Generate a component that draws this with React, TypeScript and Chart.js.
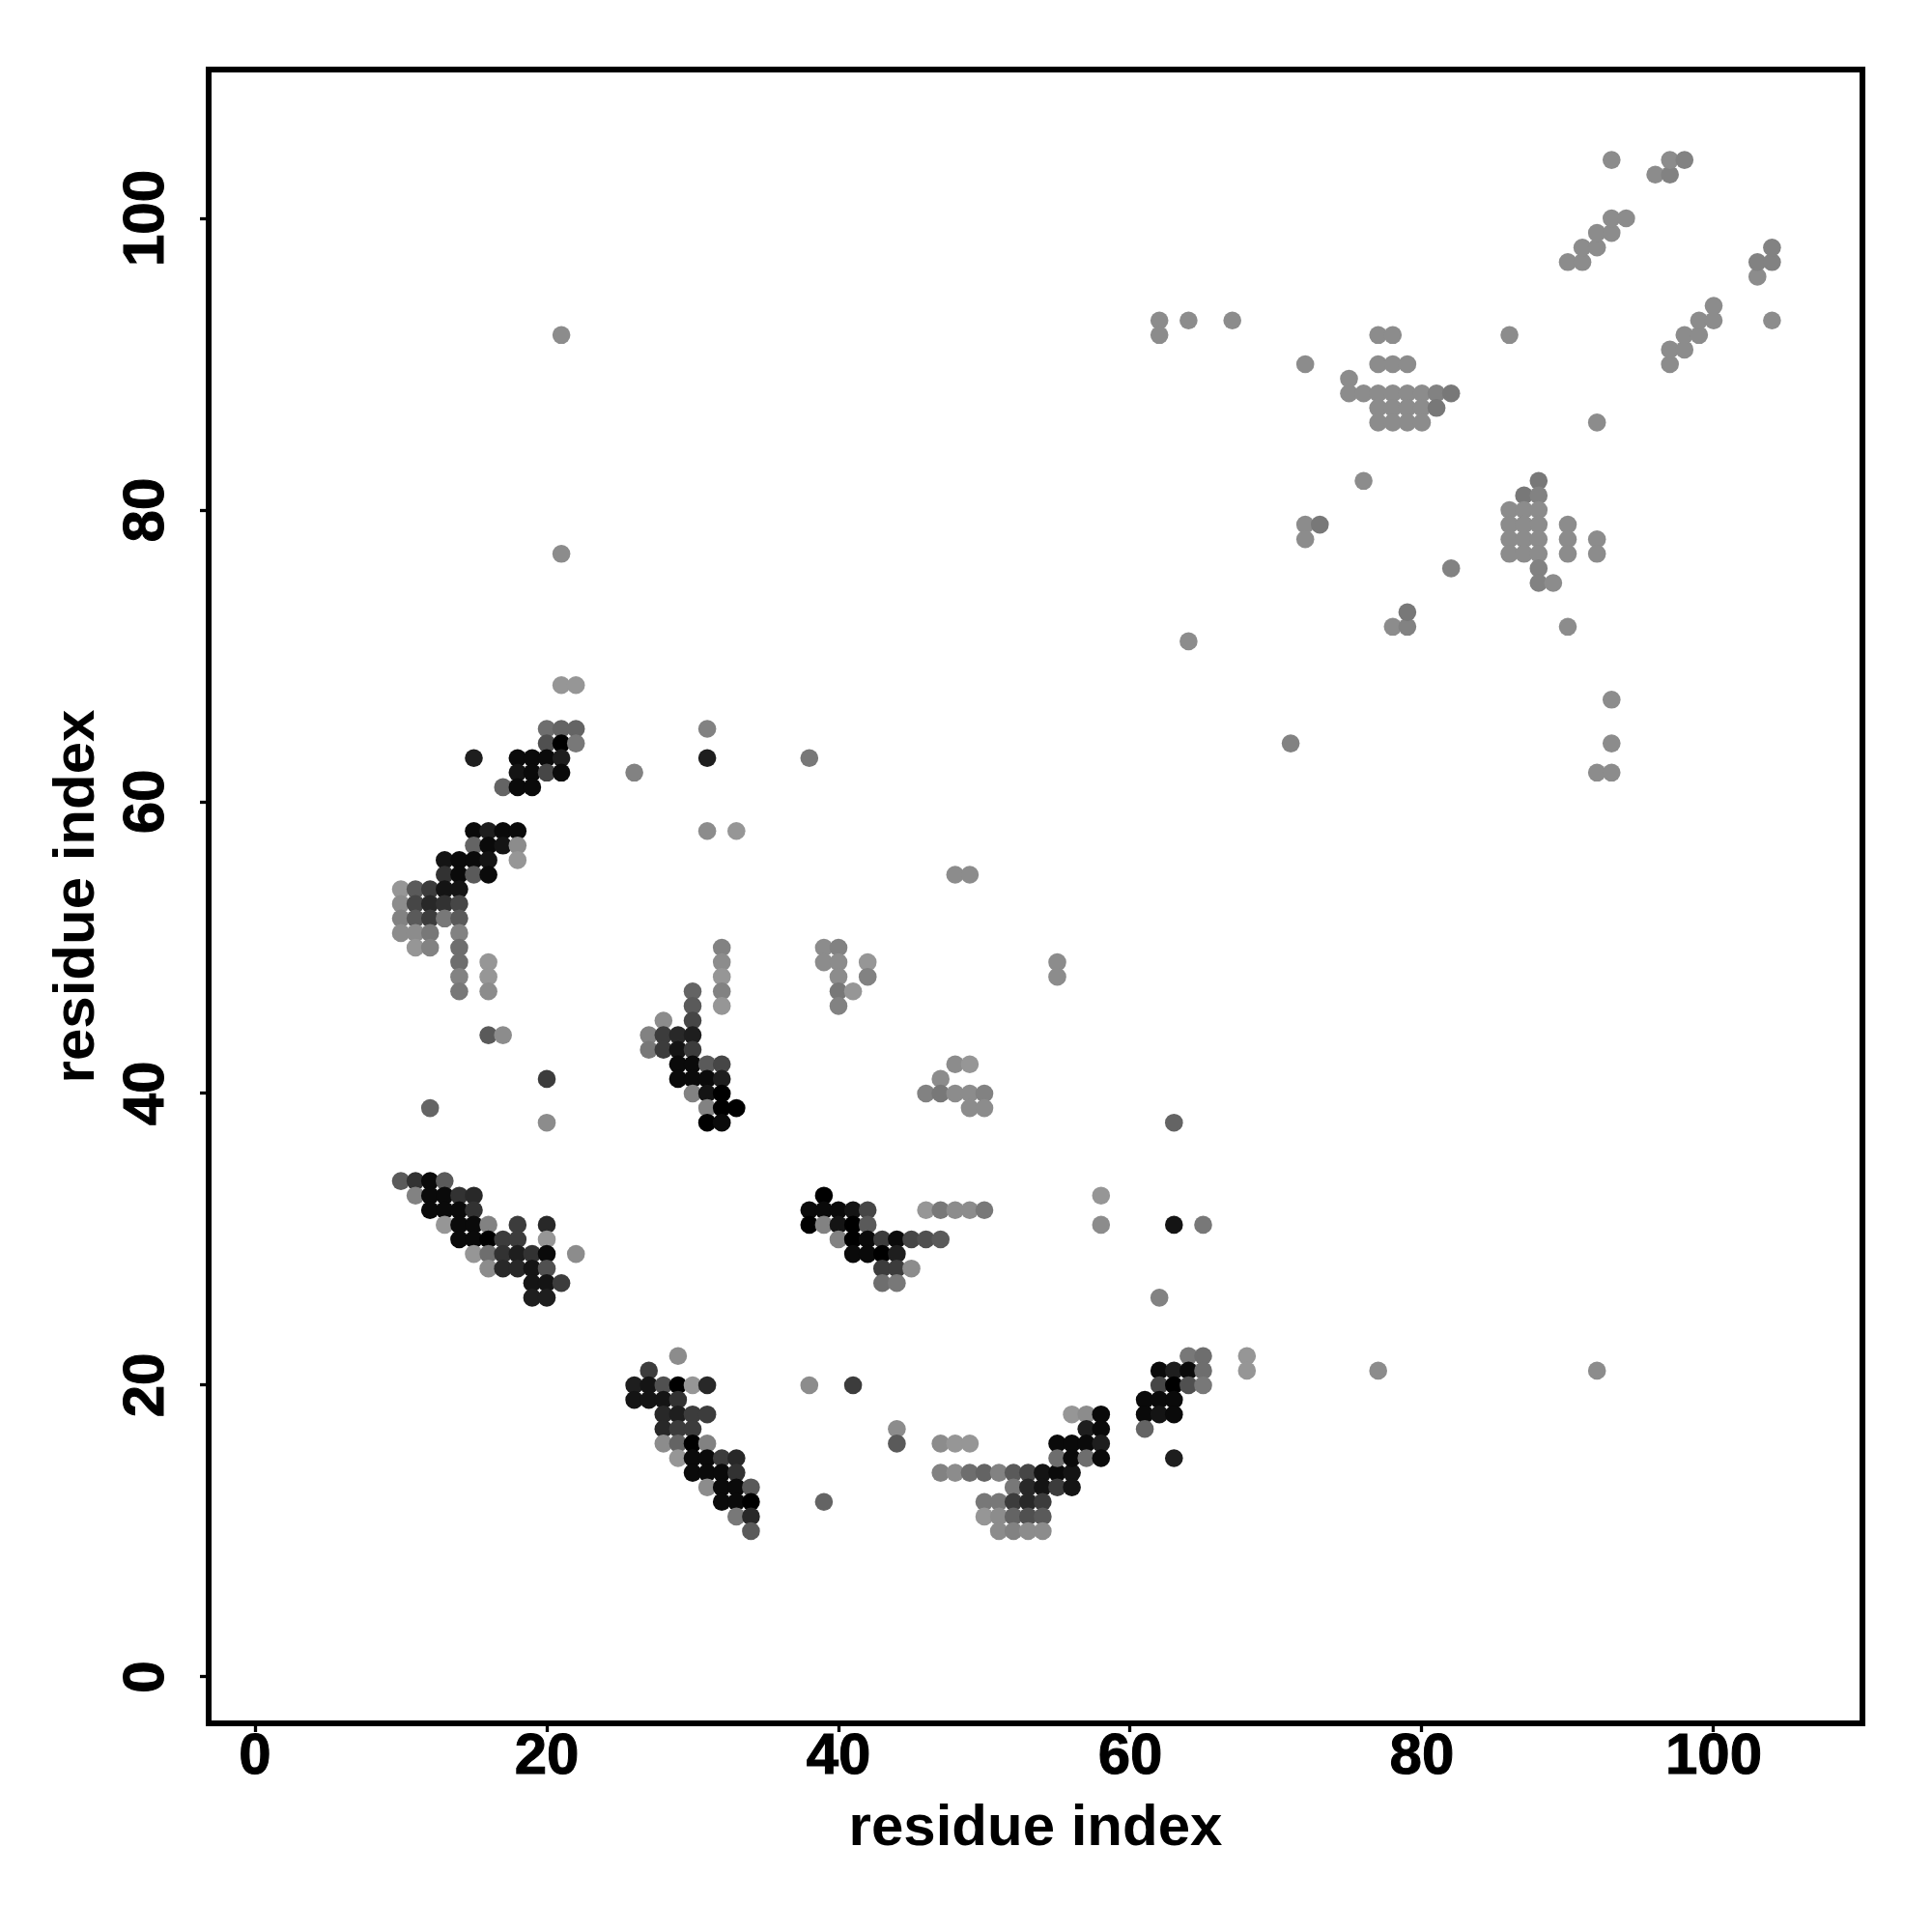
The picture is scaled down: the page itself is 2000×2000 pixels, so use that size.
import React, { useEffect, useRef } from "react";
import { Chart, registerables } from "chart.js";

Chart.register(...registerables);

// Each contact: [residue i, residue j, strength 0 (weak) .. 15 (strong)]
type Contact = [number, number, number];

const xTickValues = [0, 20, 40, 60, 80, 100];
const yTickValues = [0, 20, 40, 60, 80, 100];
const xAxisTitle = "residue index";
const yAxisTitle = "residue index";

const hairpinUpperLeft: Contact[] = [
  [21, 68, 0], [22, 68, 0],
  [20, 65, 4], [21, 65, 5], [22, 65, 5], [31, 65, 2],
  [20, 64, 7], [21, 64, 15], [22, 64, 3],
  [15, 63, 12], [18, 63, 14], [19, 63, 14], [20, 63, 14], [21, 63, 12], [31, 63, 12], [38, 63, 3],
  [18, 62, 13], [19, 62, 14], [20, 62, 8], [21, 62, 14], [26, 62, 2],
  [17, 61, 5], [18, 61, 14], [19, 61, 14],
  [15, 58, 14], [16, 58, 12], [17, 58, 14], [18, 58, 14], [31, 58, 1], [33, 58, 0],
  [15, 57, 5], [16, 57, 14], [17, 57, 13], [18, 57, 1],
  [13, 56, 13], [14, 56, 14], [15, 56, 14], [16, 56, 13], [18, 56, 0],
  [13, 55, 10], [14, 55, 14], [15, 55, 6], [16, 55, 14],
  [10, 54, 0], [11, 54, 6], [12, 54, 9], [13, 54, 13], [14, 54, 13],
  [10, 53, 1], [11, 53, 8], [12, 53, 11], [13, 53, 10], [14, 53, 8],
  [10, 52, 2], [11, 52, 6], [12, 52, 9], [13, 52, 3], [14, 52, 6],
  [10, 51, 1], [11, 51, 1], [12, 51, 3], [14, 51, 2],
  [11, 50, 0], [12, 50, 2], [14, 50, 4],
  [14, 49, 4], [16, 49, 0],
  [14, 48, 2], [16, 48, 0],
  [14, 47, 3], [16, 47, 1],
  [16, 44, 6], [17, 44, 1],
  [12, 39, 5], [20, 41, 9], [20, 38, 1],
];

const hairpinMiddle: Contact[] = [
  [32, 50, 2], [32, 49, 1], [32, 48, 0], [32, 47, 2], [32, 46, 0],
  [30, 47, 5], [30, 46, 6], [30, 45, 8], [28, 45, 1],
  [27, 44, 2], [28, 44, 9], [29, 44, 11], [30, 44, 12],
  [27, 43, 3], [28, 43, 9], [29, 43, 13], [30, 43, 9],
  [29, 42, 14], [30, 42, 14], [31, 42, 6], [32, 42, 8],
  [29, 41, 14], [30, 41, 14], [31, 41, 14], [32, 41, 12],
  [30, 40, 2], [31, 40, 13], [32, 40, 15],
  [31, 39, 2], [32, 39, 15], [33, 39, 15],
  [31, 38, 15], [32, 38, 14],
  [39, 50, 1], [40, 50, 2], [39, 49, 1], [40, 49, 1], [42, 49, 0],
  [40, 48, 1], [42, 48, 2], [40, 47, 3], [41, 47, 0], [40, 46, 2],
  [48, 42, 1], [49, 42, 0], [47, 41, 1],
  [46, 40, 2], [47, 40, 3], [48, 40, 1], [49, 40, 1], [50, 40, 2],
  [49, 39, 1], [50, 39, 1],
  [48, 55, 1], [49, 55, 1], [55, 49, 1], [55, 48, 1], [63, 38, 5],
];

const sheetLowerLeft: Contact[] = [
  [10, 34, 6], [11, 34, 10], [12, 34, 14], [13, 34, 6],
  [11, 33, 2], [12, 33, 14], [13, 33, 14], [14, 33, 10], [15, 33, 11],
  [12, 32, 14], [13, 32, 14], [14, 32, 14], [15, 32, 10],
  [13, 31, 0], [14, 31, 14], [15, 31, 14], [16, 31, 2], [18, 31, 9], [20, 31, 11],
  [14, 30, 14], [15, 30, 14], [16, 30, 15], [17, 30, 9], [18, 30, 9], [20, 30, 0],
  [15, 29, 0], [16, 29, 4], [17, 29, 10], [18, 29, 12], [19, 29, 10], [20, 29, 14], [22, 29, 1],
  [16, 28, 1], [17, 28, 11], [18, 28, 11], [19, 28, 13], [20, 28, 7],
  [19, 27, 13], [20, 27, 13], [21, 27, 9],
  [19, 26, 12], [20, 26, 12],
];

const sheetCentre: Contact[] = [
  [39, 33, 15], [58, 33, 0],
  [38, 32, 14], [39, 32, 14], [40, 32, 14], [41, 32, 13], [42, 32, 8],
  [46, 32, 0], [47, 32, 3], [48, 32, 1], [49, 32, 1], [50, 32, 3],
  [38, 31, 15], [39, 31, 2], [40, 31, 13], [41, 31, 15], [42, 31, 6],
  [58, 31, 1], [63, 31, 13], [65, 31, 3],
  [40, 30, 2], [41, 30, 15], [42, 30, 14], [43, 30, 9], [44, 30, 14], [45, 30, 8], [46, 30, 7], [47, 30, 6],
  [41, 29, 14], [42, 29, 14], [43, 29, 15], [44, 29, 12],
  [43, 28, 9], [44, 28, 9], [45, 28, 1],
  [43, 27, 4], [44, 27, 3],
  [62, 26, 2],
];

const sheetBottom: Contact[] = [
  [29, 22, 1], [27, 21, 9],
  [26, 20, 12], [27, 20, 13], [28, 20, 7], [29, 20, 15], [30, 20, 0], [31, 20, 11],
  [26, 19, 13], [27, 19, 13], [28, 19, 13], [29, 19, 10],
  [28, 18, 11], [29, 18, 12], [30, 18, 9], [31, 18, 9],
  [28, 17, 11], [29, 17, 9], [30, 17, 9],
  [28, 16, 1], [29, 16, 5], [30, 16, 15], [31, 16, 2],
  [29, 15, 0], [30, 15, 14], [31, 15, 14], [32, 15, 9], [33, 15, 11],
  [30, 14, 14], [31, 14, 14], [32, 14, 14], [33, 14, 10],
  [31, 13, 1], [32, 13, 14], [33, 13, 14], [34, 13, 6],
  [32, 12, 14], [33, 12, 14], [34, 12, 15],
  [33, 11, 3], [34, 11, 11], [34, 10, 6],
  [38, 20, 1], [41, 20, 9], [44, 17, 1], [44, 16, 6], [39, 12, 5],
  [47, 16, 1], [48, 16, 0], [49, 16, 0],
  [47, 14, 2], [48, 14, 1], [49, 14, 4], [50, 14, 5], [51, 14, 2], [52, 14, 6], [53, 14, 8],
  [54, 14, 13], [55, 14, 14], [56, 14, 13],
  [52, 13, 3], [53, 13, 11], [54, 13, 13], [55, 13, 9], [56, 13, 13],
  [50, 12, 3], [51, 12, 3], [52, 12, 9], [53, 12, 11], [54, 12, 9],
  [50, 11, 0], [51, 11, 1], [52, 11, 5], [53, 11, 7], [54, 11, 6],
  [51, 10, 1], [52, 10, 2], [53, 10, 1], [54, 10, 1],
  [64, 22, 3], [65, 22, 4], [68, 22, 0],
  [62, 21, 14], [63, 21, 12], [64, 21, 14], [65, 21, 4], [68, 21, 0], [77, 21, 1], [92, 21, 1],
  [62, 20, 8], [63, 20, 15], [64, 20, 7], [65, 20, 3],
  [61, 19, 14], [62, 19, 14], [63, 19, 14],
  [56, 18, 0], [57, 18, 1], [58, 18, 14], [61, 18, 14], [62, 18, 13], [63, 18, 14],
  [57, 17, 12], [58, 17, 14], [61, 17, 5],
  [55, 16, 14], [56, 16, 14], [57, 16, 14], [58, 16, 12],
  [55, 15, 4], [56, 15, 14], [57, 15, 4], [58, 15, 14], [63, 15, 12],
];

const domainUpperRight: Contact[] = [
  [21, 92, 1], [21, 77, 1], [71, 64, 2], [64, 71, 1],
  [62, 93, 1], [64, 93, 1], [67, 93, 1], [62, 92, 1], [104, 93, 1],
  [72, 90, 1], [75, 89, 1], [76, 82, 1],
  [72, 79, 1], [73, 79, 3], [72, 78, 1],
  [78, 72, 1], [79, 72, 2], [79, 73, 3], [82, 76, 2],
  [77, 92, 1], [78, 92, 1], [86, 92, 1],
  [77, 90, 1], [78, 90, 1], [79, 90, 1],
  [75, 88, 1], [76, 88, 1], [77, 88, 1], [78, 88, 1], [79, 88, 1], [80, 88, 1], [81, 88, 2], [82, 88, 3],
  [77, 87, 1], [78, 87, 1], [79, 87, 1], [80, 87, 1], [81, 87, 3],
  [77, 86, 1], [78, 86, 1], [79, 86, 1], [80, 86, 1], [92, 86, 1],
  [88, 82, 3], [87, 81, 3], [88, 81, 2],
  [86, 80, 1], [87, 80, 1], [88, 80, 1],
  [86, 79, 1], [87, 79, 1], [88, 79, 1], [90, 79, 1],
  [86, 78, 1], [87, 78, 1], [88, 78, 1], [90, 78, 1], [92, 78, 1],
  [86, 77, 1], [87, 77, 1], [88, 77, 1], [90, 77, 1], [92, 77, 1],
  [88, 76, 2], [88, 75, 2], [89, 75, 1],
  [90, 72, 1], [93, 67, 1], [93, 64, 1], [92, 62, 1], [93, 62, 1],
  [90, 97, 1], [91, 97, 1], [91, 98, 1], [92, 98, 1], [92, 99, 1], [93, 99, 1], [93, 100, 1], [94, 100, 1],
  [93, 104, 1], [96, 103, 1], [97, 103, 2], [97, 104, 1], [98, 104, 2],
  [97, 90, 1], [97, 91, 1], [98, 91, 1], [98, 92, 1], [99, 92, 1], [99, 93, 1], [100, 93, 1], [100, 94, 1],
  [103, 96, 1], [103, 97, 2], [104, 97, 2], [104, 98, 2],
];

const allContacts: Contact[] = [
  ...hairpinUpperLeft,
  ...hairpinMiddle,
  ...sheetLowerLeft,
  ...sheetCentre,
  ...sheetBottom,
  ...domainUpperRight,
];

const strengthColor = (s: number) => {
  const g = Math.max(0, 150 - 10 * s);
  return `rgb(${g},${g},${g})`;
};

const framePlugin = {
  id: "frame",
  afterDatasetsDraw(chart: any) {
    const { ctx, chartArea: a } = chart;
    ctx.save();
    ctx.strokeStyle = "#000";
    ctx.lineWidth = 6;
    ctx.strokeRect(a.left, a.top, a.right - a.left, a.bottom - a.top);
    ctx.restore();
  },
};

const FONT = { family: "'Liberation Sans', Arial, sans-serif", size: 60, weight: "bold" as const };

export default function App() {
  const ref = useRef<HTMLCanvasElement | null>(null);
  useEffect(() => {
    const chart = new Chart(ref.current as HTMLCanvasElement, {
      type: "scatter",
      data: {
        datasets: [
          {
            data: allContacts.map(([x, y]) => ({ x, y })),
            backgroundColor: allContacts.map(([, , s]) => strengthColor(s)),
            pointRadius: 9.3,
            pointBorderWidth: 0,
            pointHoverRadius: 9.3,
          },
        ],
      },
      plugins: [framePlugin],
      options: {
        animation: false,
        responsive: false,
        devicePixelRatio: 1,
        layout: { padding: { top: 72, right: 72, left: 0, bottom: 0 } },
        plugins: { legend: { display: false }, tooltip: { enabled: false } },
        scales: {
          x: {
            type: "linear",
            min: -3.18,
            max: 110.2,
            afterFit: (s: any) => { s.height = 216; },
            afterBuildTicks: (s: any) => { s.ticks = xTickValues.map((value) => ({ value })); },
            grid: { drawOnChartArea: false, drawTicks: true, tickLength: 9, tickWidth: 3.3, tickColor: "#000" },
            border: { display: false },
            ticks: { color: "#000", font: FONT, padding: -10, maxRotation: 0, autoSkip: false, textStrokeColor: "#000", textStrokeWidth: 1 },
            title: { display: true, text: xAxisTitle, color: "#000", font: FONT, padding: { top: 0, bottom: 71 } },
          },
          y: {
            type: "linear",
            min: -3.18,
            max: 110.2,
            afterFit: (s: any) => { s.width = 216; },
            afterBuildTicks: (s: any) => { s.ticks = yTickValues.map((value) => ({ value })); },
            grid: { drawOnChartArea: false, drawTicks: true, tickLength: 9, tickWidth: 3.3, tickColor: "#000" },
            border: { display: false },
            ticks: {
              color: "#000",
              font: FONT,
              padding: 4,
              minRotation: 90,
              maxRotation: 90,
              crossAlign: "center",
              autoSkip: false,
              textStrokeColor: "#000",
              textStrokeWidth: 1,
            },
            title: { display: true, text: yAxisTitle, color: "#000", font: FONT, padding: { top: 44, bottom: 0 } },
          },
        },
      },
    } as any);
    return () => chart.destroy();
  }, []);
  return (
    <div style={{ position: "fixed", left: 0, top: 0, width: 2000, height: 2000, background: "#fff" }}>
      <canvas ref={ref} width={2000} height={2000} style={{ display: "block" }} />
    </div>
  );
}
